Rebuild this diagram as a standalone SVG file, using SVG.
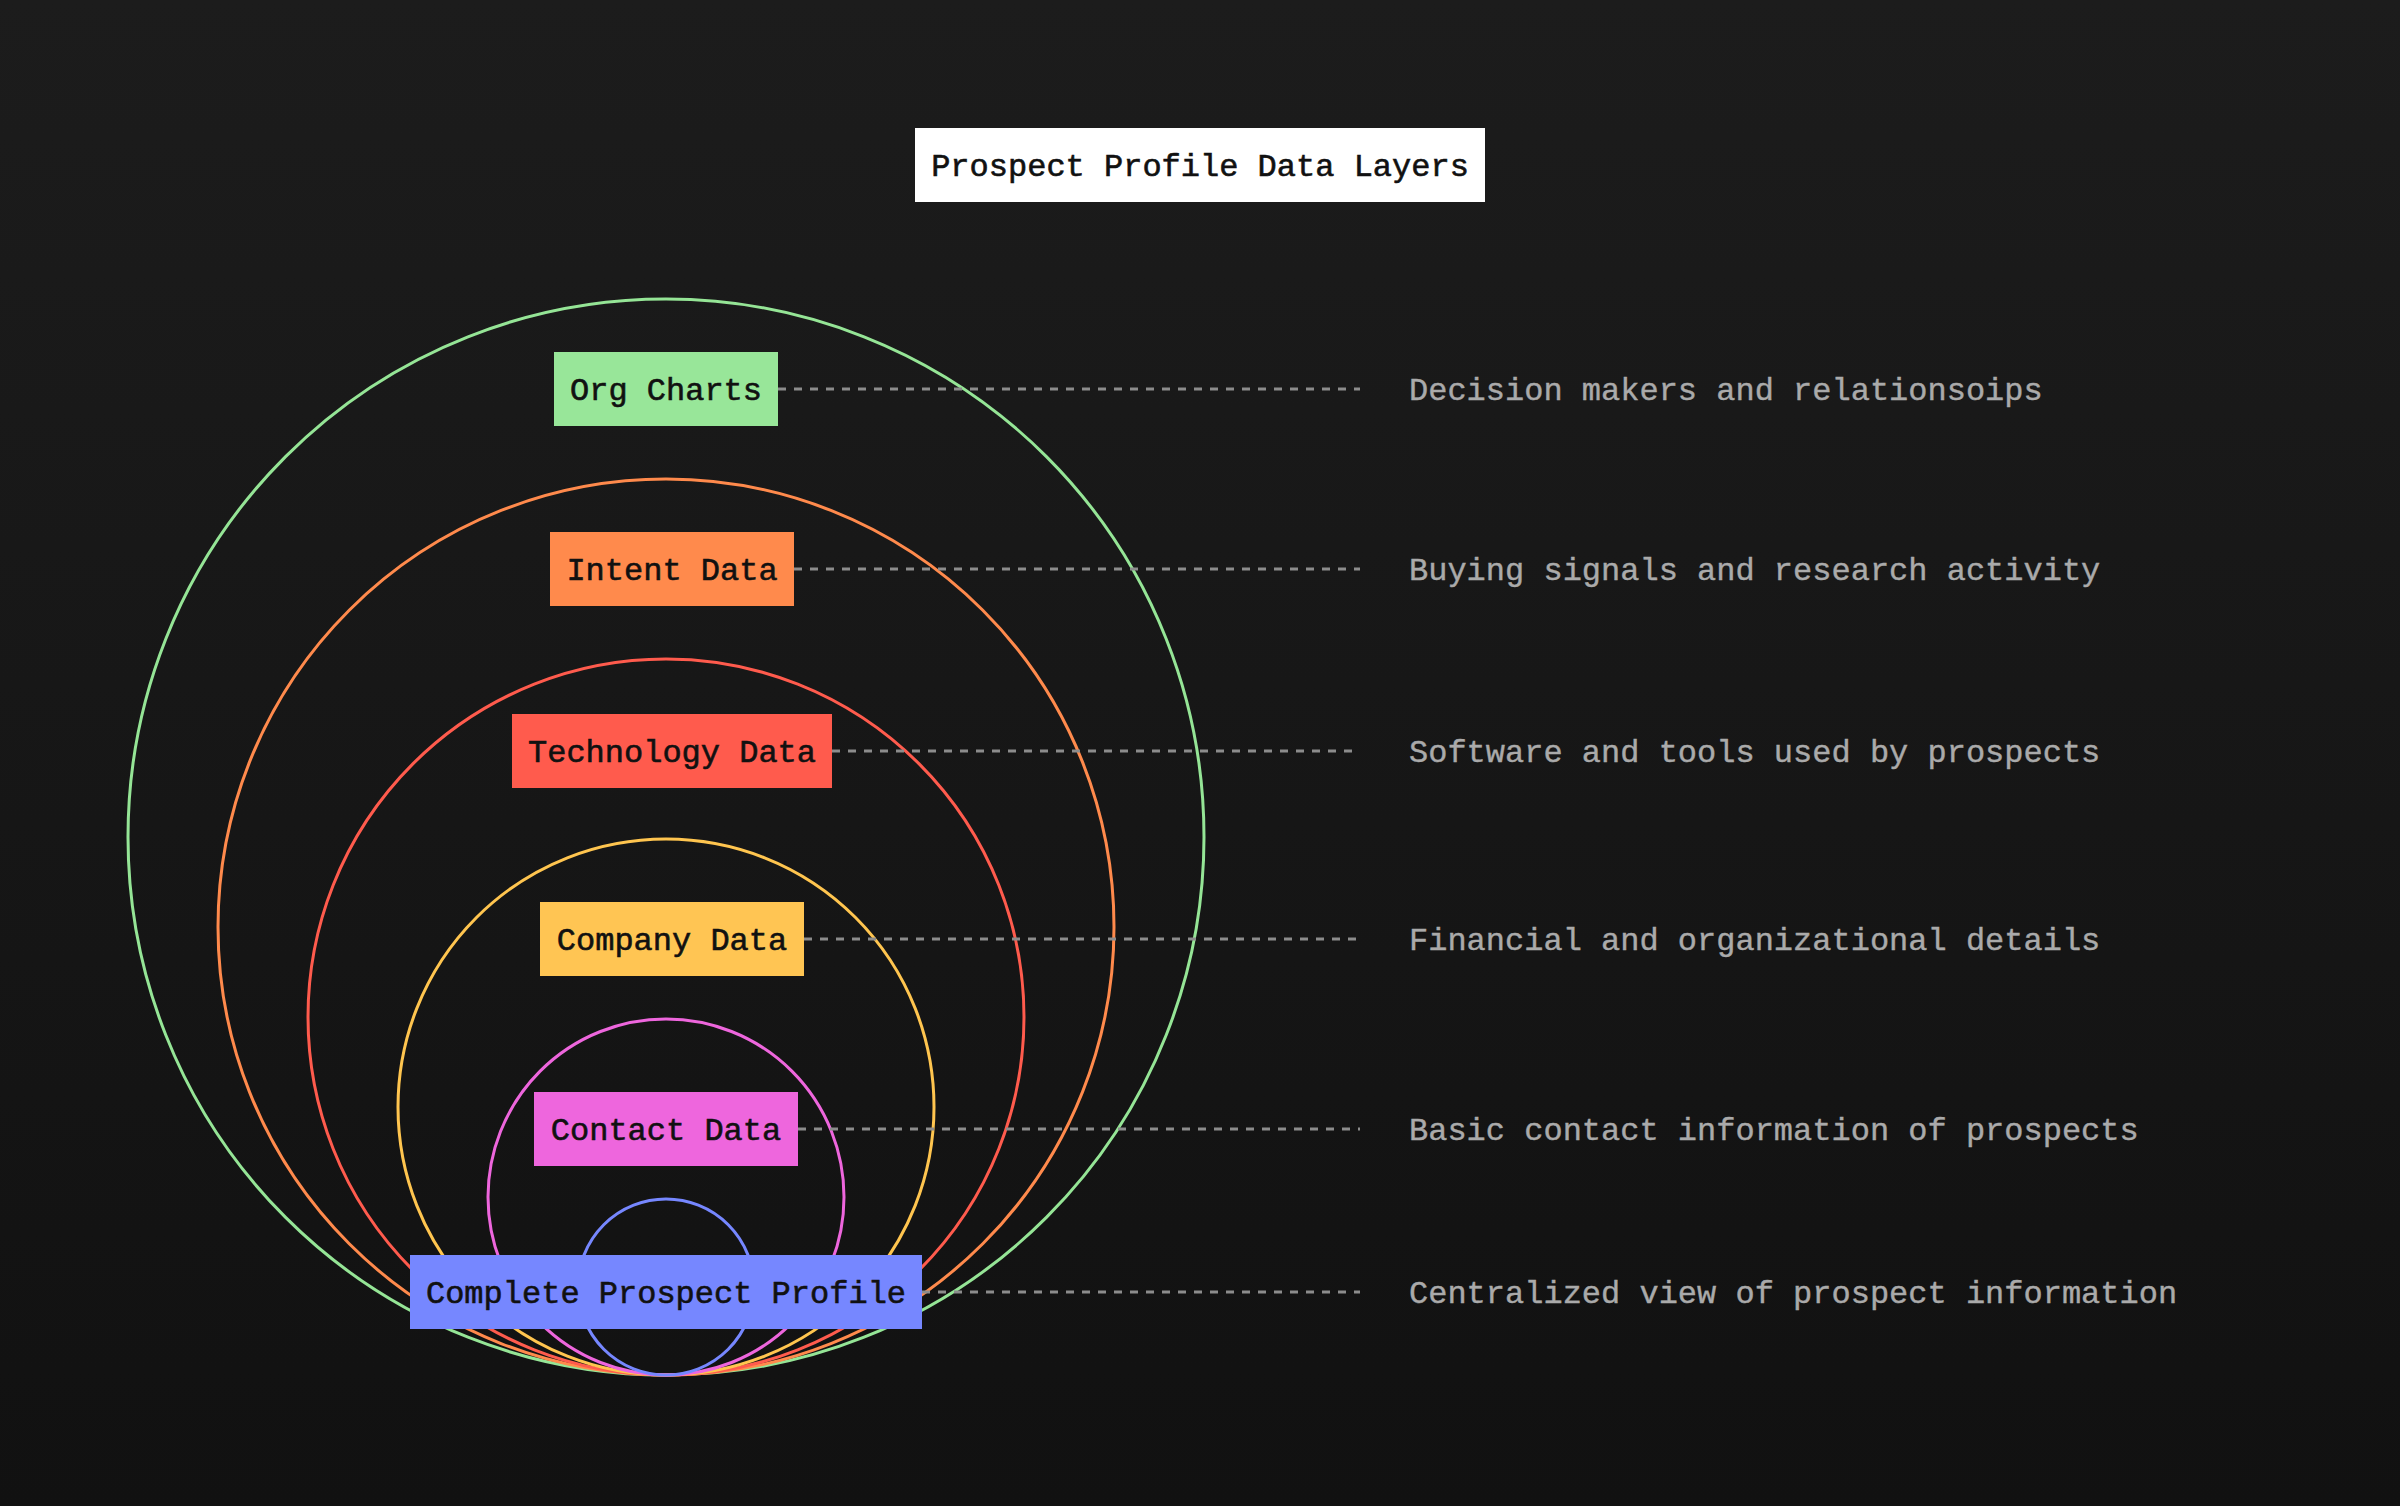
<svg xmlns="http://www.w3.org/2000/svg" width="2400" height="1506" viewBox="0 0 2400 1506">
<defs>
<linearGradient id="bg" x1="0" y1="0" x2="0" y2="1">
<stop offset="0" stop-color="#1c1c1c"/>
<stop offset="1" stop-color="#111111"/>
</linearGradient>
<style>
.ring{fill:none;stroke-width:3}
.lbl{font-family:"Liberation Mono","DejaVu Sans Mono",monospace;font-size:32px;fill:#111;stroke:#111;stroke-width:0.6;text-anchor:middle}
.desc{font-family:"Liberation Mono","DejaVu Sans Mono",monospace;font-size:32px;fill:#aaaaaa;stroke:#aaaaaa;stroke-width:0.4}
.dash{stroke:#8c8c8c;stroke-width:3;stroke-dasharray:8 8;fill:none}
</style>
</defs>
<rect x="0" y="0" width="2400" height="1506" fill="url(#bg)"/>

<g id="title">
<rect x="915" y="128" width="570" height="74" fill="#ffffff"/>
<text class="lbl" x="1200" y="176">Prospect Profile Data Layers</text>
</g>

<g id="rings">
<circle class="ring" cx="666" cy="837" r="538" stroke="#95e596"/>
<circle class="ring" cx="666" cy="927" r="448" stroke="#ff8a4c"/>
<circle class="ring" cx="666" cy="1017" r="358" stroke="#ff5b4d"/>
<circle class="ring" cx="666" cy="1107" r="268" stroke="#ffc54f"/>
<circle class="ring" cx="666" cy="1197" r="178" stroke="#ee66dd"/>
<circle class="ring" cx="666" cy="1287" r="88" stroke="#7687ff"/>
</g>

<g id="connectors">
<line class="dash" x1="778" y1="389" x2="1360" y2="389"/>
<line class="dash" x1="794" y1="569" x2="1360" y2="569"/>
<line class="dash" x1="832" y1="751" x2="1360" y2="751"/>
<line class="dash" x1="804" y1="939" x2="1360" y2="939"/>
<line class="dash" x1="798" y1="1129" x2="1360" y2="1129"/>
<line class="dash" x1="922" y1="1292" x2="1360" y2="1292"/>
</g>

<g id="org-charts">
<rect x="554" y="352" width="224" height="74" fill="#98e699"/>
<text class="lbl" x="666" y="400">Org Charts</text>
</g>
<g id="intent-data">
<rect x="550" y="532" width="244" height="74" fill="#ff8a4c"/>
<text class="lbl" x="672" y="580">Intent Data</text>
</g>
<g id="technology-data">
<rect x="512" y="714" width="320" height="74" fill="#ff5b4d"/>
<text class="lbl" x="672" y="762">Technology Data</text>
</g>
<g id="company-data">
<rect x="540" y="902" width="264" height="74" fill="#ffc553"/>
<text class="lbl" x="672" y="950">Company Data</text>
</g>
<g id="contact-data">
<rect x="534" y="1092" width="264" height="74" fill="#ee66dd"/>
<text class="lbl" x="666" y="1140">Contact Data</text>
</g>
<g id="complete-profile">
<rect x="410" y="1255" width="512" height="74" fill="#7687ff"/>
<text class="lbl" x="666" y="1303">Complete Prospect Profile</text>
</g>

<g id="descriptions">
<text class="desc" x="1409" y="400">Decision makers and relationsoips</text>
<text class="desc" x="1409" y="580">Buying signals and research activity</text>
<text class="desc" x="1409" y="762">Software and tools used by prospects</text>
<text class="desc" x="1409" y="950">Financial and organizational details</text>
<text class="desc" x="1409" y="1140">Basic contact information of prospects</text>
<text class="desc" x="1409" y="1303">Centralized view of prospect information</text>
</g>
</svg>
